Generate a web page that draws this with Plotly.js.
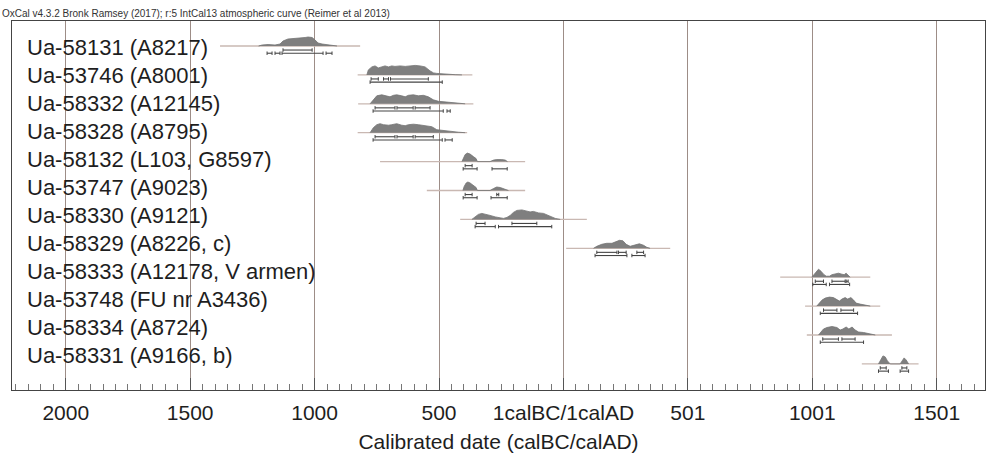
<!DOCTYPE html>
<html>
<head>
<meta charset="utf-8">
<script src="https://cdn.plot.ly/plotly-3.0.1.min.js"></script>
<style>html,body{margin:0;padding:0;background:#fff;}#chart{width:987px;height:459px;}</style>
</head>
<body>
<div id="chart"></div>
<script>
// ---------- DATA ----------
const chartTitle = "OxCal v4.3.2 Bronk Ramsey (2017); r:5 IntCal13 atmospheric curve (Reimer et al 2013)";
const axisTitle = "Calibrated date (calBC/calAD)";
const tickValues = [-2000, -1500, -1000, -500, 0, 500, 1000, 1500];
const tickLabels = ["2000", "1500", "1000", "500", "1calBC/1calAD", "501", "1001", "1501"];

const sampleLabels = [
  "Ua-58131 (A8217)",
  "Ua-53746 (A8001)",
  "Ua-58332 (A12145)",
  "Ua-58328 (A8795)",
  "Ua-58132 (L103, G8597)",
  "Ua-53747 (A9023)",
  "Ua-58330 (A9121)",
  "Ua-58329 (A8226, c)",
  "Ua-58333 (A12178, V armen)",
  "Ua-53748 (FU nr A3436)",
  "Ua-58334 (A8724)",
  "Ua-58331 (A9166, b)"
];

// extent of the thin line drawn through each row (years, BC negative)
const rangeLineFrom = [-1380, -827, -825, -827, -737, -549, -415, 11, 871, 971, 978, 1199];
const rangeLineTo   = [-817, -366, -362, -387, -154, -154, 94, 429, 1233, 1273, 1320, 1427];

// probability distributions: years and relative probability
const distYears = [
  [-1225,-1211,-1187,-1159,-1139,-1127,-1107,-1079,-1058,-1038,-1026,-1010,-998,-986,-970,-954,-938,-922,-910],
  [-790,-784,-770,-757,-744,-730,-717,-703,-690,-677,-656,-636,-616,-596,-576,-556,-536,-522,-509,-489,-462,-435,-408],
  [-777,-764,-750,-730,-710,-697,-683,-670,-650,-636,-623,-603,-583,-563,-543,-523,-502,-476,-449,-422,-395],
  [-777,-764,-750,-737,-723,-703,-690,-670,-650,-636,-623,-603,-583,-569,-549,-529,-509,-482,-449,-422,-395],
  [-408,-402,-395,-386,-375,-362,-351,-346,-295,-281,-268,-248,-234,-225],
  [-404,-399,-391,-384,-375,-362,-351,-346,-295,-281,-268,-254,-241,-228,-221],
  [-368,-355,-342,-328,-315,-295,-274,-254,-241,-227,-214,-201,-187,-167,-154,-134,-121,-100,-80,-60,-47,-33,-13],
  [121,134,154,174,195,208,225,239,252,268,288,305,322,335,348],
  [998,1008,1018,1025,1035,1045,1056,1069,1079,1092,1105,1119,1128,1136,1143,1152],
  [1018,1029,1039,1052,1069,1085,1099,1109,1119,1132,1142,1155,1166,1176,1192,1212,1233],
  [1025,1035,1045,1059,1079,1099,1112,1123,1136,1147,1160,1172,1186,1206,1233,1253],
  [1266,1276,1284,1293,1302,1313,1353,1361,1369,1377,1387]
];
const distProb = [
  [0,0.1,0.15,0.1,0.2,0.5,0.7,0.75,0.75,0.85,0.9,0.85,0.6,0.3,0.2,0.15,0.15,0.05,0],
  [0,0.5,0.8,0.9,0.7,0.8,0.9,0.8,0.9,0.85,0.9,0.85,0.9,0.95,0.9,0.8,0.4,0.2,0.15,0.1,0.05,0.02,0],
  [0,0.4,0.8,0.9,0.8,0.7,0.85,0.9,0.8,0.7,0.85,0.9,0.8,0.85,0.7,0.4,0.25,0.2,0.1,0.05,0],
  [0,0.5,0.8,0.9,0.8,0.75,0.8,0.9,0.75,0.7,0.8,0.85,0.8,0.75,0.7,0.6,0.3,0.2,0.15,0.05,0],
  [0,0.4,0.7,0.85,0.75,0.5,0.3,0,0,0.15,0.2,0.2,0.15,0],
  [0,0.4,0.75,0.85,0.75,0.5,0.3,0,0,0.2,0.35,0.3,0.2,0.1,0],
  [0,0.3,0.5,0.6,0.55,0.4,0.25,0.15,0.1,0.2,0.4,0.7,0.9,0.95,0.85,0.75,0.8,0.65,0.6,0.4,0.2,0.1,0],
  [0,0.2,0.4,0.5,0.5,0.6,0.8,0.75,0.4,0.2,0.3,0.45,0.3,0.1,0],
  [0,0.3,0.6,0.8,0.6,0.3,0.1,0.1,0.25,0.3,0.4,0.3,0.25,0.4,0.2,0],
  [0,0.3,0.6,0.8,0.9,0.85,0.6,0.5,0.7,0.85,0.7,0.85,0.6,0.3,0.2,0.1,0],
  [0,0.3,0.6,0.75,0.85,0.75,0.5,0.6,0.8,0.6,0.8,0.5,0.3,0.25,0.1,0],
  [0,0.4,0.8,0.7,0.3,0,0,0.3,0.6,0.4,0]
];

// highest posterior density ranges [from, to]
const ranges68 = [
  [[-1127,-1010]],
  [[-773,-744],[-723,-703],[-695,-543]],
  [[-757,-677],[-669,-604],[-596,-536]],
  [[-757,-677],[-669,-604],[-596,-523]],
  [[-395,-367]],
  [[-395,-367],[-268,-260]],
  [[-351,-315],[-207,-107]],
  [[134,215],[221,252],[295,322]],
  [[1012,1045],[1079,1132],[1136,1144]],
  [[1045,1099],[1115,1166]],
  [[1042,1105],[1119,1172]],
  [[1273,1297],[1360,1380]]
];
const ranges95 = [
  [[-1191,-1171],[-1159,-1139],[-1131,-966],[-954,-930]],
  [[-777,-487]],
  [[-765,-483],[-468,-455]],
  [[-765,-487],[-476,-447]],
  [[-403,-347],[-287,-226]],
  [[-403,-347],[-291,-226]],
  [[-355,-274],[-261,-47]],
  [[127,255],[275,328]],
  [[1002,1056],[1069,1150]],
  [[1032,1182]],
  [[1032,1206]],
  [[1266,1306],[1353,1387]]
];

// ---------- STYLE ----------
const FONT = "Liberation Sans, Arial, sans-serif";
const TEXT = "#1e1e1e";
const probScale = 0.346;   // row units per unit of relative probability
const off68 = 0.14, off95 = 0.25;

const traces = [];

// thin row lines
sampleLabels.forEach((lab, i) => {
  traces.push({
    type: "scatter", mode: "lines", x: [rangeLineFrom[i], rangeLineTo[i]], y: [i, i],
    line: {color: "#c9b8b2", width: 1.3}, hoverinfo: "skip", showlegend: false
  });
});

// distributions
sampleLabels.forEach((lab, i) => {
  traces.push({
    type: "scatter", mode: "lines", x: distYears[i],
    y: distProb[i].map(p => i - p * probScale),
    fill: "toself", fillcolor: "#7f7f7f",
    line: {color: "#747474", width: 0.8}, hoverinfo: "skip", showlegend: false
  });
});

// ranges
function rangeTrace(list, off) {
  const xs = [], ys = [];
  list.forEach((segs, i) => {
    segs.forEach(s => { xs.push(s[0], s[1], null); ys.push(i + off, i + off, null); });
  });
  return {
    type: "scatter", mode: "lines+markers", x: xs, y: ys,
    line: {color: "#444", width: 1.1},
    marker: {symbol: "line-ns-open", size: 2.5, color: "#444", line: {width: 1, color: "#444"}},
    hoverinfo: "skip", showlegend: false
  };
}
traces.push(rangeTrace(ranges68, off68));
traces.push(rangeTrace(ranges95, off95));

const annotations = sampleLabels.map((lab, i) => ({
  text: lab, xref: "paper", yref: "y2", x: 0.0134, y: i,
  xanchor: "left", yanchor: "middle", showarrow: false,
  font: {family: FONT, size: 22, color: TEXT}
}));

const layout = {
  width: 987, height: 459,
  margin: {l: 12, r: 2, t: 21, b: 69, pad: 0},
  paper_bgcolor: "#fff", plot_bgcolor: "#fff",
  title: {text: chartTitle, x: 0.002, xanchor: "left", xref: "container",
          y: 1 - 13 / 459, yanchor: "middle", yref: "container",
          font: {family: FONT, size: 10, color: "#333"}},
  xaxis: {
    range: [-2216, 1694], tickmode: "array", tickvals: tickValues, ticktext: tickLabels,
    ticks: "inside", ticklen: 12, tickwidth: 1, tickcolor: "#555",
    minor: {dtick: 50, tick0: 0, ticks: "inside", ticklen: 6, tickwidth: 1, tickcolor: "#777", showgrid: false},
    showgrid: true, gridcolor: "#9d8d87", gridwidth: 1,
    zeroline: false, showline: true, mirror: true, linecolor: "#444", linewidth: 1.2,
    tickfont: {family: FONT, size: 21, color: TEXT}, ticklabelstandoff: 4,
    title: {text: axisTitle, font: {family: FONT, size: 21, color: TEXT}, standoff: 10}
  },
  yaxis: {
    range: [11.903, -0.865], showgrid: false, zeroline: false, showticklabels: false,
    ticks: "", showline: true, mirror: true, linecolor: "#444", linewidth: 1.2
  },
  yaxis2: {
    range: [12.25, -0.929], overlaying: "y", visible: false, showgrid: false, zeroline: false
  },
  annotations: annotations,
  showlegend: false
};

Plotly.newPlot("chart", traces, layout, {displayModeBar: false, staticPlot: true});
</script>
</body>
</html>
